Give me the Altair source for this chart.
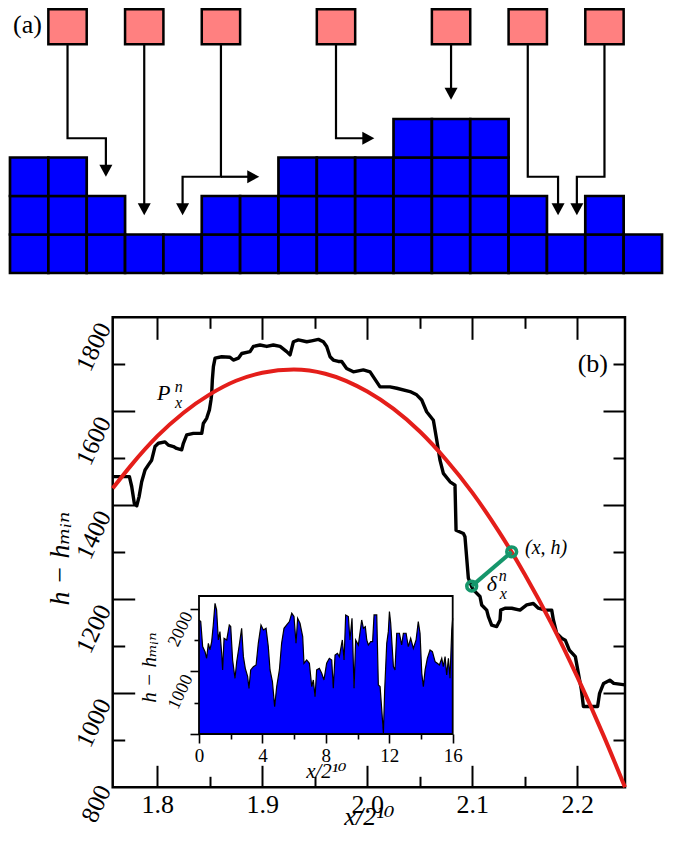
import altair as alt
import pandas as pd

W, H = 658, 822
SERIF = "'Liberation Serif', 'DejaVu Serif', serif"

# ---------------- panel (a) data (grid units) ----------------
col_heights = [3, 3, 2, 1, 1, 2, 2, 3, 3, 3, 4, 4, 4, 2, 1, 2, 1]
pink_cols = [1, 3, 5, 8, 11, 13, 15]
pink_y0, pink_y1 = 5.94, 6.85

arrow_ids = ["a1", "a2", "a3", "a3r", "a4", "a5", "a6", "a7"]
arrow_xs = [[1.5, 1.5, 2.5, 2.5], [3.5, 3.5], [5.5, 5.5, 4.5, 4.5], [5.5, 6.3],
            [8.5, 8.5, 9.3], [11.5, 11.5], [13.5, 13.5, 14.29, 14.29],
            [15.5, 15.5, 14.78, 14.78]]
arrow_ys = [[5.94, 3.5, 3.5, 2.7], [5.94, 1.7], [5.94, 2.5, 2.5, 1.7], [2.5, 2.5],
            [5.94, 3.5, 3.5], [5.94, 4.7], [5.94, 2.5, 2.5, 1.7],
            [5.94, 2.5, 2.5, 1.7]]
head_down_x = [2.5, 3.5, 4.5, 11.5, 14.29, 14.78]
head_down_y = [2.5, 1.5, 1.5, 4.5, 1.5, 1.5]
head_right_x = [6.5, 9.5]
head_right_y = [2.5, 3.5]

# ---------------- panel (b) data ----------------
prof_x = [1.7575, 1.7734, 1.7756, 1.7781, 1.7804, 1.7826, 1.7851, 1.7883, 1.7915, 1.7946,
          1.7978, 1.8010, 1.8073, 1.8105, 1.8153, 1.8184, 1.8232, 1.8248, 1.8280, 1.8343,
          1.8423, 1.8438, 1.8470, 1.8496, 1.8511, 1.8518, 1.8524, 1.8534, 1.8550, 1.8613,
          1.8692, 1.8724, 1.8772, 1.8804, 1.8883, 1.8915, 1.8978, 1.9042, 1.9105, 1.9169,
          1.9232, 1.9264, 1.9296, 1.9343, 1.9423, 1.9470, 1.9534, 1.9581, 1.9613, 1.9645,
          1.9676, 1.9724, 1.9756, 1.9803, 1.9867, 1.9962, 2.0026, 2.0121, 2.0216, 2.0280,
          2.0407, 2.0470, 2.0518, 2.0565, 2.0629, 2.0661, 2.0692, 2.0724, 2.0788, 2.0835,
          2.0845, 2.0915, 2.0930, 2.0962, 2.0994, 2.1010, 2.1073, 2.1089, 2.1137, 2.1153,
          2.1184, 2.1232, 2.1264, 2.1270, 2.1311, 2.1375, 2.1454, 2.1518, 2.1581, 2.1629,
          2.1692, 2.1756, 2.1772, 2.1803, 2.1851, 2.1885, 2.1924, 2.1981, 2.2039, 2.2058,
          2.2193, 2.2212, 2.2250, 2.2309, 2.2347, 2.2454]
prof_h = [1461, 1461, 1440, 1404, 1399, 1418, 1450, 1475, 1486, 1496,
          1525, 1532, 1535, 1528, 1525, 1521, 1518, 1532, 1550, 1553,
          1553, 1574, 1585, 1603, 1624, 1638, 1667, 1695, 1713, 1716,
          1715, 1709, 1713, 1723, 1727, 1738, 1741, 1738, 1741, 1738,
          1727, 1720, 1748, 1752, 1748, 1750, 1753, 1748, 1738, 1716,
          1709, 1706, 1706, 1691, 1684, 1688, 1684, 1652, 1652, 1649,
          1642, 1635, 1624, 1599, 1581, 1539, 1496, 1468, 1450, 1443,
          1347, 1340, 1333, 1245, 1227, 1220, 1206, 1188, 1177, 1163,
          1145, 1142, 1156, 1177, 1181, 1181, 1177, 1188, 1191, 1181,
          1177, 1177, 1156, 1128, 1117, 1113, 1092, 1078, 1007, 972,
          972, 1000, 1021, 1028, 1021, 1018]

fit_x = [1.7575, 1.775, 1.80, 1.825, 1.85, 1.875, 1.90, 1.93, 1.96, 2.00, 2.025, 2.05,
         2.075, 2.10, 2.125, 2.15, 2.175, 2.20, 2.225, 2.2454]
fit_h = [1436, 1485, 1547, 1597, 1636, 1665, 1682, 1689, 1680, 1642, 1605, 1557,
         1497, 1427, 1345, 1253, 1150, 1035, 910, 800]

delta_x = [2.0994, 2.1375]
delta_h = [1228, 1301]

ann_text = ["P", "n", "x", "δ", "n", "x", "(x, h)"]
ann_x = [1.7997, 1.8165, 1.8168, 2.1137, 2.1252, 2.1262, 2.1502]
ann_h = [1624, 1641, 1606, 1218, 1238, 1200, 1296]
ann_size = [22, 16, 16, 22, 16, 16, 20]

ins_x = [0.00, 0.11, 0.23, 0.38, 0.48, 0.59, 0.69, 0.80, 0.90, 1.01, 1.11, 1.22, 1.32, 1.43,
         1.49, 1.58, 1.75, 1.91, 2.00, 2.12, 2.27, 2.38, 2.54, 2.69, 2.80, 2.92, 3.07, 3.15,
         3.26, 3.43, 3.60, 3.74, 3.91, 4.06, 4.23, 4.37, 4.48, 4.63, 4.77, 4.90, 5.07, 5.21,
         5.36, 5.53, 5.70, 5.85, 5.99, 6.12, 6.22, 6.37, 6.54, 6.62, 6.79, 6.96, 7.11, 7.21,
         7.32, 7.42, 7.59, 7.74, 7.88, 8.05, 8.22, 8.37, 8.47, 8.58, 8.73, 8.85, 9.04, 9.15,
         9.25, 9.42, 9.52, 9.65, 9.78, 9.88, 10.05, 10.26, 10.37, 10.49, 10.58, 10.68, 10.83,
         10.95, 11.04, 11.21, 11.31, 11.42, 11.52, 11.63, 11.71, 11.84, 11.94, 12.01, 12.09,
         12.26, 12.36, 12.47, 12.64, 12.78, 12.89, 13.06, 13.20, 13.35, 13.52, 13.69, 13.83,
         13.94, 14.05, 14.15, 14.26, 14.40, 14.57, 14.72, 14.89, 15.03, 15.16, 15.31, 15.41,
         15.52, 15.62, 15.73, 15.83, 15.94, 16.00]
ins_h = [1818, 1792, 1393, 1313, 1207, 1446, 1340, 1473, 1738, 2084, 1978, 1499, 1632, 1287,
         1021, 1526, 1499, 1738, 1712, 1180, 888, 1154, 1419, 1685, 1233, 1047, 914, 728,
         1021, 1074, 1100, 1446, 1738, 1659, 1685, 1393, 1021, 835, 436, 755, 1021, 1446,
         1685, 1738, 1792, 1925, 1872, 1446, 1845, 1765, 1552, 1127, 1180, 1127, 755, 861,
         595, 1021, 1047, 968, 861, 1127, 1207, 1180, 728, 1260, 1287, 1233, 1499, 1180,
         1898, 1872, 1499, 1845, 728, 1499, 1419, 1818, 1685, 1712, 1499, 1419, 1473,
         1473, 1898, 1898, 781, 755, 409, 11, 702, 1446, 1632, 1951, 1765,
         1074, 1021, 1606, 1606, 1419, 1606, 1606, 1393, 1526, 1366, 1499, 1792,
         1606, 968, 755, 1021, 1207, 1340, 1313, 1154, 1127, 1100, 1207, 1074,
         1233, 941, 1207, 888, 1659, 1845]

x_major = [1.8, 1.9, 2.0, 2.1, 2.2]
x_minor = [1.85, 1.95, 2.05, 2.15]
y_labels = [800, 1000, 1200, 1400, 1600, 1800]
y_major = [1000, 1200, 1400, 1600]
y_minor = [900, 1100, 1300, 1500, 1700]
ix_major = [0, 4, 8, 12, 16]
ix_minor = [2, 6, 10, 14]
iy_major = [0, 1000, 2000]
iy_minor = [500, 1500]

# ---------------- layout (pixels inside the plot area) ----------------
A_X = [2, 654]
A_Y = [265, -4.5]
M_L, M_R, M_T, M_B = 104.7, 617.0, 309.3, 779.3
I_L, I_R, I_T, I_B = 191.0, 444.7, 588.0, 726.0
MAIN_XD = [1.7575, 2.2454]
MAIN_YD = [800, 1800]
INS_XD = [0, 16]
INS_YD = [0, 2200]


def sc(domain, rng):
    return alt.Scale(domain=domain, range=rng, nice=False, zero=False)


ax_a, ay_a = sc([0, 17], A_X), sc([0, 7], A_Y)
mx, my = sc(MAIN_XD, [M_L, M_R]), sc(MAIN_YD, [M_B, M_T])
ix, iy = sc(INS_XD, [I_L, I_R]), sc(INS_YD, [I_B, I_T])


def tick_axis(orient, offset, values, size, width=2.0):
    return alt.Axis(orient=orient, offset=offset, values=values, ticks=True,
                    tickSize=size, tickWidth=width, tickColor="black",
                    labels=False, domain=False, grid=False, title=None)


# ---------------- panel (a) layers ----------------
blk = [{"c0": c, "c1": c + 1, "r0": r, "r1": r + 1}
       for c, hgt in enumerate(col_heights) for r in range(hgt)]
blocks = alt.Chart(pd.DataFrame(blk)).mark_rect(
    fill="#0000ff", stroke="black", strokeWidth=2.7).encode(
    x=alt.X("c0:Q", scale=ax_a, axis=None), x2="c1:Q",
    y=alt.Y("r0:Q", scale=ay_a, axis=None), y2="r1:Q")

pk = pd.DataFrame({"c0": pink_cols, "c1": [c + 1 for c in pink_cols],
                   "r0": [pink_y0] * len(pink_cols), "r1": [pink_y1] * len(pink_cols)})
pinks = alt.Chart(pk).mark_rect(fill="#ff8080", stroke="black", strokeWidth=2.5).encode(
    x=alt.X("c0:Q", scale=ax_a, axis=None), x2="c1:Q",
    y=alt.Y("r0:Q", scale=ay_a, axis=None), y2="r1:Q")

arr_rows = []
for aid, xs, ys in zip(arrow_ids, arrow_xs, arrow_ys):
    for k, (xv, yv) in enumerate(zip(xs, ys)):
        arr_rows.append({"id": aid, "k": k, "x": xv, "y": yv})
arrows = alt.Chart(pd.DataFrame(arr_rows)).mark_line(
    color="black", strokeWidth=2.2, strokeJoin="miter", strokeCap="butt").encode(
    x=alt.X("x:Q", scale=ax_a, axis=None), y=alt.Y("y:Q", scale=ay_a, axis=None),
    detail="id:N", order="k:O")

heads_d = alt.Chart(pd.DataFrame({"x": head_down_x, "y": head_down_y})).mark_point(
    shape="M -1 -1.85 L 1 -1.85 L 0 0 Z", filled=True, fill="black", size=169,
    strokeWidth=0, opacity=1).encode(
    x=alt.X("x:Q", scale=ax_a, axis=None), y=alt.Y("y:Q", scale=ay_a, axis=None))
heads_r = alt.Chart(pd.DataFrame({"x": head_right_x, "y": head_right_y})).mark_point(
    shape="M -1.85 -1 L -1.85 1 L 0 0 Z", filled=True, fill="black", size=169,
    strokeWidth=0, opacity=1).encode(
    x=alt.X("x:Q", scale=ax_a, axis=None), y=alt.Y("y:Q", scale=ay_a, axis=None))

lab_a = alt.Chart(pd.DataFrame({"t": ["(a)"], "x": [0.078], "y": [6.234]})).mark_text(
    align="left", baseline="alphabetic", font=SERIF, fontSize=26, color="black").encode(
    x=alt.X("x:Q", scale=ax_a, axis=None), y=alt.Y("y:Q", scale=ay_a, axis=None), text="t:N")

# ---------------- panel (b) main ----------------
frame = alt.Chart(pd.DataFrame({"x0": [MAIN_XD[0]], "x1": [MAIN_XD[1]],
                                "y0": [MAIN_YD[0]], "y1": [MAIN_YD[1]]})).mark_rect(
    fillOpacity=0, stroke="black", strokeWidth=2.5).encode(
    x=alt.X("x0:Q", scale=mx, axis=tick_axis("bottom", M_T - H, x_minor, 11)),
    x2="x1:Q",
    y=alt.Y("y0:Q", scale=my, axis=tick_axis("left", -M_R, y_minor, 12)),
    y2="y1:Q")

x_lab_axis = alt.Axis(
    orient="bottom", offset=M_B - H, values=x_major, format=".1f", ticks=False, tickSize=0,
    domain=False, grid=False, labelFont=SERIF, labelFontSize=26, labelPadding=4,
    labelColor="black", labelFlush=False, title="x/2¹⁰", titleFont=SERIF,
    titleFontSize=26, titleFontStyle="italic", titleFontWeight="normal",
    titleColor="black", titleY=37.5, titleBaseline="alphabetic")
y_lab_axis = alt.Axis(
    orient="left", offset=-M_L, values=y_labels, format="d", ticks=False, tickSize=0,
    domain=False, grid=False, labelFont=SERIF, labelFontSize=25, labelAngle=295,
    labelAlign="right", labelBaseline="middle", labelPadding=9,
    labelOffset={"condition": {"test": "datum.value == 800", "value": -1}, "value": 6.5},
    labelOverlap=False, labelFlush=False, labelColor="black", title="h − hₘᵢₙ",
    titleFont=SERIF, titleFontSize=28, titleFontStyle="italic", titleFontWeight="normal",
    titleColor="black", titleAngle=270, titleX=-44.7, titleY=550,
    titleAlign="center", titleBaseline="alphabetic")

profile = alt.Chart(pd.DataFrame({"x": prof_x, "h": prof_h})).mark_line(
    color="black", strokeWidth=3.4, strokeJoin="round").encode(
    x=alt.X("x:Q", scale=mx, axis=x_lab_axis),
    y=alt.Y("h:Q", scale=my, axis=y_lab_axis))

fit = alt.Chart(pd.DataFrame({"x": fit_x, "h": fit_h})).mark_line(
    color="#e41e1a", strokeWidth=4, interpolate="monotone").encode(
    x=alt.X("x:Q", scale=mx, axis=tick_axis("top", -M_B, x_major, 22)),
    y=alt.Y("h:Q", scale=my, axis=tick_axis("right", M_L - W, y_major, 22)))

seg = alt.Chart(pd.DataFrame({"x": delta_x, "h": delta_h})).mark_line(
    color="#15966b", strokeWidth=4).encode(
    x=alt.X("x:Q", scale=mx, axis=tick_axis("top", -M_B, x_minor, 11)),
    y=alt.Y("h:Q", scale=my, axis=tick_axis("right", M_L - W, y_minor, 12)))

circ = alt.Chart(pd.DataFrame({"x": delta_x, "h": delta_h})).mark_point(
    shape="circle", filled=False, stroke="#15966b", strokeWidth=3.6, size=95,
    opacity=1).encode(
    x=alt.X("x:Q", scale=mx, axis=tick_axis("bottom", M_T - H, x_major, 22)),
    y=alt.Y("h:Q", scale=my, axis=tick_axis("left", -M_R, y_major, 22)))

ann = alt.Chart(pd.DataFrame({"t": ann_text, "x": ann_x, "h": ann_h, "fs": ann_size})).mark_text(
    align="left", baseline="alphabetic", font=SERIF, fontStyle="italic", color="black").encode(
    x=alt.X("x:Q", scale=mx, axis=None), y=alt.Y("h:Q", scale=my, axis=None),
    text="t:N", size=alt.Size("fs:Q", scale=None))

lab_b = alt.Chart(pd.DataFrame({"t": ["(b)"], "x": [2.2292], "h": [1684]})).mark_text(
    align="right", baseline="alphabetic", font=SERIF, fontSize=26, color="black").encode(
    x=alt.X("x:Q", scale=mx, axis=None), y=alt.Y("h:Q", scale=my, axis=None), text="t:N")

# ---------------- inset ----------------
ix_axis = alt.Axis(
    orient="bottom", offset=I_B - H, values=ix_major, format="d", ticks=True, tickSize=9,
    tickWidth=1.6, tickColor="black", domain=False, grid=False, labelFont=SERIF,
    labelFontSize=19, labelPadding=3, labelFlush=False, labelColor="black",
    title="x/2¹⁰", titleFont=SERIF, titleFontSize=21, titleFontStyle="italic",
    titleFontWeight="normal", titleColor="black", titleY=43, titleBaseline="alphabetic")
iy_axis = alt.Axis(
    orient="left", offset=-I_L, values=iy_major, format="d", ticks=True, tickSize=9,
    tickWidth=1.6, tickColor="black", domain=False, grid=False, labelFont=SERIF,
    labelFontSize=18, labelAngle=295, labelAlign="right", labelBaseline="middle",
    labelPadding=2, labelOffset=4, labelOverlap=False, labelFlush=False, labelColor="black",
    labelExpr="datum.value == 0 ? '' : datum.label",
    title="h − hₘᵢₙ", titleFont=SERIF, titleFontSize=21, titleFontStyle="italic",
    titleFontWeight="normal", titleColor="black", titleAngle=270, titleX=-44,
    titleY=659, titleAlign="center", titleBaseline="alphabetic")

ins_df = pd.DataFrame({"x": ins_x, "h": ins_h})
ins_area = alt.Chart(ins_df).mark_area(fill="#0000ff", opacity=1).encode(
    x=alt.X("x:Q", scale=ix, axis=ix_axis),
    y=alt.Y("h:Q", scale=iy, axis=iy_axis), y2=alt.datum(0))
ins_line = alt.Chart(ins_df).mark_line(color="black", strokeWidth=1.2).encode(
    x=alt.X("x:Q", scale=ix, axis=tick_axis("bottom", I_B - H, ix_minor, 5, 1.6)),
    y=alt.Y("h:Q", scale=iy, axis=tick_axis("left", -I_L, iy_minor, 5, 1.6)))
ins_frame = alt.Chart(pd.DataFrame({"x0": [INS_XD[0]], "x1": [INS_XD[1]],
                                    "y0": [INS_YD[0]], "y1": [INS_YD[1]]})).mark_rect(
    fillOpacity=0, stroke="black", strokeWidth=1.8).encode(
    x=alt.X("x0:Q", scale=ix, axis=None), x2="x1:Q",
    y=alt.Y("y0:Q", scale=iy, axis=None), y2="y1:Q")

chart = alt.layer(
    blocks, pinks, arrows, heads_d, heads_r, lab_a,
    frame, profile, fit, seg, circ, ann, lab_b,
    ins_area, ins_line, ins_frame,
).resolve_scale(x="independent", y="independent").properties(
    width=W, height=H, padding=0, autosize=alt.AutoSizeParams(type="none")
).configure_view(strokeWidth=0)

chart.save("out.html", embed_options={"renderer": "svg", "actions": False})
